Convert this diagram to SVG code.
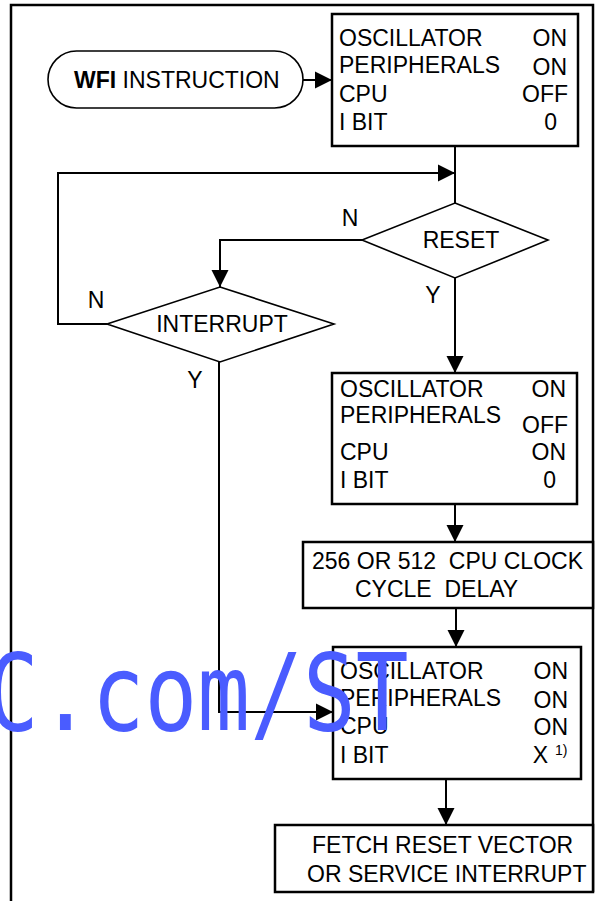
<svg xmlns="http://www.w3.org/2000/svg" width="600" height="901" viewBox="0 0 600 901">
<style>
text{font-family:"Liberation Sans",Arial,sans-serif;font-size:23px;fill:#000}
.e{text-anchor:end}
.m{text-anchor:middle}
.box{fill:#fff;stroke:#000;stroke-width:2.5}
.dia{fill:#fff;stroke:#000;stroke-width:1.6}
.con{fill:none;stroke:#000;stroke-width:2}
.wm{font-family:"DejaVu Sans Mono",monospace;font-size:107px;fill:#4a5cff}
</style>
<defs>
<marker id="ah" markerWidth="17" markerHeight="18" refX="17" refY="9" orient="auto" markerUnits="userSpaceOnUse">
<path d="M0,0.5 L17,9 L0,17.5 Z" fill="#000"/>
</marker>
</defs>
<g id="frame">
<path d="M11,901 V5 H593 V892" fill="none" stroke="#000" stroke-width="2.5"/>
</g>
<g id="connectors">
<path class="con" d="M303,80 H332" marker-end="url(#ah)"/>
<path class="con" d="M455,146 V203"/>
<path class="con" d="M107,324 H58 V173 H455" marker-end="url(#ah)"/>
<path class="con" d="M362,240 H220 V287" marker-end="url(#ah)"/>
<path class="con" d="M455,278 V373" marker-end="url(#ah)"/>
<path class="con" d="M219,362 V712 H333" marker-end="url(#ah)"/>
<path class="con" d="M455,504 V542" marker-end="url(#ah)"/>
<path class="con" d="M456,608 V647" marker-end="url(#ah)"/>
<path class="con" d="M446,779 V825" marker-end="url(#ah)"/>
</g>
<g id="wfi">
<rect x="48" y="51" width="255" height="57" rx="28.5" ry="28.5" fill="#fff" stroke="#000" stroke-width="1.6"/>
<text x="74" y="88"><tspan font-weight="bold">WFI</tspan> INSTRUCTION</text>
</g>
<g id="state1">
<rect class="box" x="332" y="14" width="246" height="132"/>
<text x="339" y="46">OSCILLATOR</text><text class="e" x="567" y="46">ON</text>
<text x="339" y="73">PERIPHERALS</text><text class="e" x="567" y="75">ON</text>
<text x="339" y="102">CPU</text><text class="e" x="568" y="102">OFF</text>
<text x="339" y="130">I BIT</text><text class="e" x="557" y="130">0</text>
</g>
<g id="reset">
<polygon class="dia" points="455,203 548,240 455,278 362,240"/>
<text class="m" x="461" y="248">RESET</text>
<text class="m" x="350" y="226">N</text>
<text class="m" x="433" y="303">Y</text>
</g>
<g id="interrupt">
<polygon class="dia" points="220,287 334,324 220,362 107,324"/>
<text class="m" x="222" y="332">INTERRUPT</text>
<text class="m" x="96" y="308">N</text>
<text class="m" x="195" y="388">Y</text>
</g>
<g id="state2">
<rect class="box" x="332" y="373" width="245" height="131"/>
<text x="340" y="397">OSCILLATOR</text><text class="e" x="566" y="397">ON</text>
<text x="340" y="423">PERIPHERALS</text><text class="e" x="568" y="433">OFF</text>
<text x="340" y="460">CPU</text><text class="e" x="566" y="460">ON</text>
<text x="340" y="488">I BIT</text><text class="e" x="556" y="488">0</text>
</g>
<g id="delay">
<rect class="box" x="303" y="542" width="290" height="66"/>
<text x="312" y="569" xml:space="preserve">256 OR 512  CPU CLOCK</text>
<text x="355" y="597" xml:space="preserve">CYCLE  DELAY</text>
</g>
<g id="state3">
<rect class="box" x="333" y="647" width="248" height="132"/>
<text x="340" y="679">OSCILLATOR</text><text class="e" x="568" y="679">ON</text>
<text x="340" y="706">PERIPHERALS</text><text class="e" x="568" y="708">ON</text>
<text x="340" y="734">CPU</text><text class="e" x="568" y="735">ON</text>
<text x="340" y="763">I BIT</text><text class="e" x="548" y="763">X</text>
<text x="555" y="755" style="font-size:14px">1)</text>
</g>
<g id="fetch">
<rect class="box" x="275" y="825" width="318" height="67"/>
<text x="312" y="853">FETCH RESET VECTOR</text>
<text x="307" y="882">OR SERVICE INTERRUPT</text>
</g>
<g id="watermark">
<text class="wm" transform="scale(0.82,1)" x="-17" y="730">C.com/ST</text>
</g>
</svg>
